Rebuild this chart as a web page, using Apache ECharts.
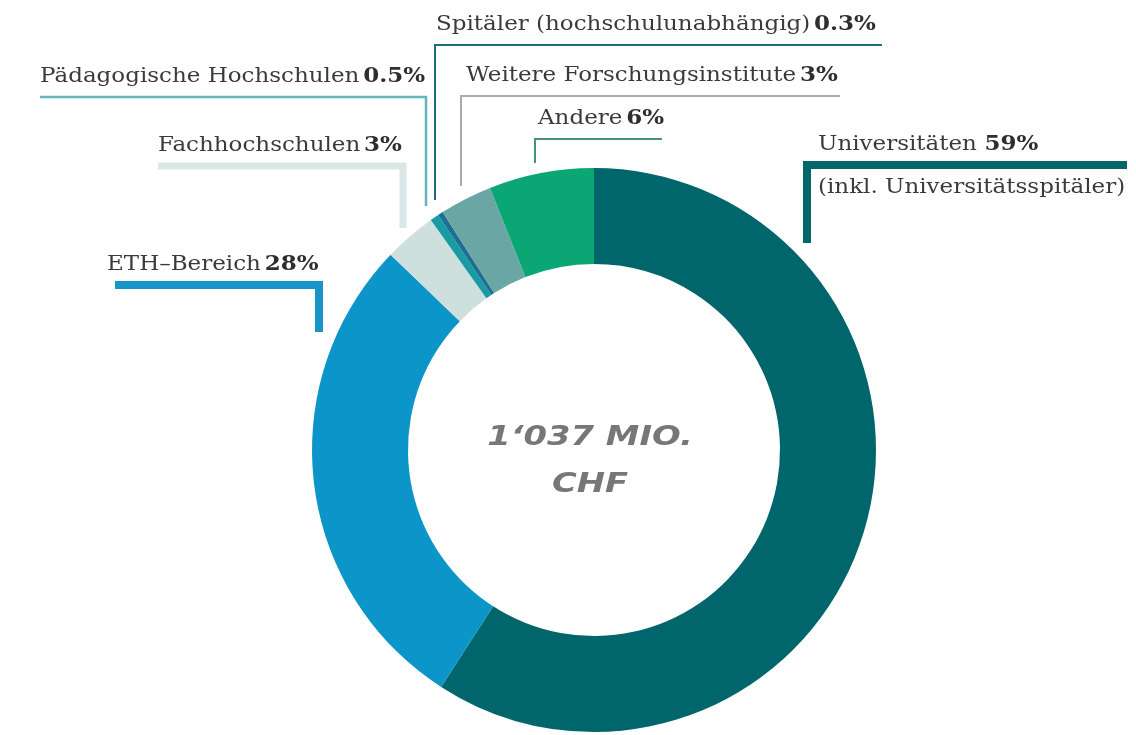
<!DOCTYPE html>
<html>
  <head>
    <meta charset="utf-8" />
    <title>Forschungsförderung</title>
    <script src="https://cdnjs.cloudflare.com/ajax/libs/echarts/6.0.0/echarts.min.js"></script>
    <style>
      html, body { margin: 0; padding: 0; background: #fff; }
    </style>
  </head>
  <body>
    <div id="main" style="width: 1136px;height: 735px;"></div>
    <script type="text/javascript">
      // data, clockwise from 12 o'clock
      var names = ['Universitäten', 'ETH–Bereich', 'Fachhochschulen', 'Pädagogische Hochschulen',
        'Spitäler (hochschulunabhängig)', 'Weitere Forschungsinstitute', 'Andere'];
      var shares = [59, 28, 3, 0.5, 0.3, 3, 6];
      var shareLabels = ['59%', '28%', '3%', '0.5%', '0.3%', '3%', '6%'];
      var sliceColors = ['#00666b', '#0b95c8', '#cde0de', '#1a9aa3', '#1d6f94', '#6aa6a3', '#0aa774'];
      var totalLabel = ['1\u2018037 MIO.', 'CHF'];

      // where each callout sits (underline y, underline span, stem x / end, thickness, colour)
      var callouts = [
        { tx: 818, ly: 165, x1: 1127, sx: 807, sy: 243, w: 8, c: '#03666a', sub: '(inkl. Universitätsspitäler)', gap: '  ' },
        { tx: 107, ly: 285, x1: 115, sx: 319, sy: 332, w: 8, c: '#1794c8' },
        { tx: 158, ly: 166, x1: 158, sx: 403, sy: 228, w: 7, c: '#d9e8e6' },
        { tx: 40, ly: 97, x1: 40, sx: 426, sy: 206, w: 2.5, c: '#63b7bc' },
        { tx: 436, ly: 45, x1: 882, sx: 435, sy: 200, w: 2, c: '#1f6d7c' },
        { tx: 466, ly: 96, x1: 840, sx: 461, sy: 186, w: 2, c: '#ababab' },
        { tx: 538, ly: 139, x1: 662, sx: 535, sy: 163, w: 2, c: '#4a8f84' }
      ];

      var myChart = echarts.init(document.getElementById('main'));

      var graphics = [];
      for (var i = 0; i < names.length; i++) {
        var co = callouts[i];
        graphics.push({
          type: 'polyline',
          silent: true,
          shape: { points: [[co.x1, co.ly], [co.sx, co.ly], [co.sx, co.sy]] },
          style: { stroke: co.c, lineWidth: co.w, fill: null, lineJoin: 'miter', lineCap: 'butt' }
        });
        graphics.push({
          type: 'text',
          silent: true,
          x: co.tx,
          y: co.ly - 20,
          scaleX: 1.15,
          style: {
            text: '{n|' + names[i] + '}' + (co.gap || ' ') + '{p|' + shareLabels[i] + '}',
            verticalAlign: 'middle',
            align: 'left',
            rich: {
              n: { fontFamily: 'DejaVu Serif', fontSize: 20, fill: '#3a3a3a' },
              p: { fontFamily: 'DejaVu Serif', fontSize: 20, fontWeight: 'bold', fill: '#2e2e2e' }
            }
          }
        });
        if (co.sub) {
          graphics.push({
            type: 'text',
            silent: true,
            x: co.tx,
            y: co.ly + 23,
            scaleX: 1.15,
            style: {
              text: co.sub,
              verticalAlign: 'middle',
              align: 'left',
              fontFamily: 'DejaVu Serif',
              fontSize: 20,
              fill: '#3a3a3a'
            }
          });
        }
      }
      graphics.push({
        type: 'text',
        silent: true,
        x: 590,
        y: 461,
        scaleX: 1.25,
        style: {
          text: totalLabel.join('\n'),
          align: 'center',
          verticalAlign: 'middle',
          fontFamily: 'DejaVu Sans',
          fontStyle: 'italic',
          fontWeight: 'bold',
          fontSize: 27,
          lineHeight: 47,
          fill: '#777777'
        }
      });

      var option = {
        animation: false,
        color: sliceColors,
        graphic: graphics,
        series: [
          {
            type: 'pie',
            center: [594, 450],
            radius: [186, 282],
            startAngle: 90,
            clockwise: true,
            avoidLabelOverlap: false,
            label: { show: false },
            labelLine: { show: false },
            itemStyle: { borderWidth: 0 },
            data: names.map(function (n, k) { return { name: n, value: shares[k] }; })
          }
        ]
      };
      myChart.setOption(option);
    </script>
  </body>
</html>
